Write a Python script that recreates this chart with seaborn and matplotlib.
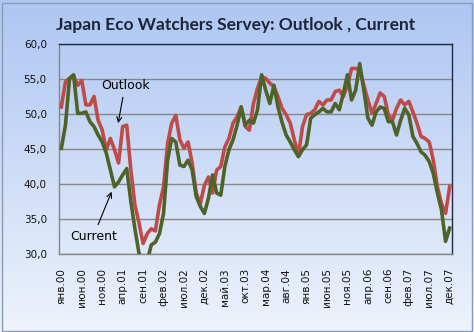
import numpy as np
import pandas as pd
import matplotlib
matplotlib.use("Agg")
import matplotlib.pyplot as plt
from matplotlib.colors import LinearSegmentedColormap
from matplotlib.patches import Rectangle
import seaborn as sns

# ---- data ----
months_ru = ["янв", "фев", "мар", "апр", "май", "июн",
             "июл", "авг", "сен", "окт", "ноя", "дек"]
years = ["00", "01", "02", "03", "04", "05", "06", "07"]

outlook = [51.0, 54.6, 55.1, 55.4, 54.1, 54.8, 51.3, 51.3, 52.5, 49.1, 47.7, 44.9,
           46.5, 44.9, 43.0, 48.2, 48.4, 42.0, 37.0, 34.4, 31.5, 32.9, 33.6, 33.3,
           37.0, 39.6, 45.8, 48.7, 49.8, 46.3, 45.1, 46.0, 43.0, 38.7, 37.2, 39.8,
           41.0, 38.7, 42.0, 42.5, 45.3, 46.5, 48.7, 49.6, 51.0, 48.2, 47.7, 51.5,
           53.7, 55.3, 55.1, 54.4, 53.9, 52.5, 50.8, 49.9, 48.7, 46.3, 44.1, 48.2,
           49.9, 50.1, 50.6, 51.8, 51.3, 52.0, 52.0, 53.2, 53.4, 52.5, 54.1, 56.5,
           56.5, 56.3, 54.1, 52.0, 50.1, 51.5, 53.0, 52.5, 49.9, 49.1, 50.8, 52.0,
           51.3, 51.8, 50.3, 48.7, 46.8, 46.5, 46.0, 43.4, 39.6, 37.2, 35.8, 39.6]

current = [45.1, 48.4, 55.1, 55.6, 50.1, 50.1, 50.3, 48.9, 48.2, 47.0, 46.0, 44.4,
           42.0, 39.6, 40.3, 41.3, 42.2, 37.5, 33.6, 30.1, 28.8, 29.0, 31.3, 31.7,
           32.9, 35.8, 43.4, 46.5, 46.0, 42.7, 42.5, 43.4, 42.0, 38.2, 36.8, 35.8,
           38.0, 41.3, 38.7, 38.4, 42.5, 44.9, 46.3, 48.4, 51.0, 48.4, 49.1, 48.7,
           50.6, 55.6, 53.4, 51.5, 54.1, 51.0, 48.8, 47.0, 46.0, 44.9, 43.9, 44.9,
           45.6, 49.4, 49.9, 50.3, 50.8, 50.3, 50.3, 51.5, 50.6, 53.0, 55.6, 52.0,
           53.4, 57.2, 53.4, 49.4, 48.4, 50.3, 51.0, 50.8, 48.9, 48.9, 47.0, 49.1,
           50.8, 49.9, 46.8, 45.8, 44.6, 44.1, 43.2, 41.5, 38.7, 36.3, 31.8, 33.7]

month_labels = [f"{m}.{y}" for y in years for m in months_ru]
idx = np.arange(len(month_labels))

df = pd.DataFrame({"idx": idx, "Outlook": outlook, "Current": current})

# ---- figure ----
W, H = 474, 332
fig = plt.figure(figsize=(W / 100, H / 100), dpi=100)

# gradient background
bg = fig.add_axes([0, 0, 1, 1], zorder=-10)
cmap = LinearSegmentedColormap.from_list("bg", ["#adc6f2", "#eef3fc"])
grad = np.linspace(0, 1, 256).reshape(-1, 1)
bg.imshow(grad, aspect="auto", cmap=cmap, extent=[0, 1, 0, 1], origin="upper")
bg.set_axis_off()
bg.add_patch(Rectangle((1.5 / W, 1.5 / H), (W - 4) / W, (H - 4.5) / H,
                       transform=fig.transFigure, fill=False,
                       edgecolor="#8a9bb5", linewidth=1.0))

left, right, top, bottom = 59.3, 451.7, 44.0, 254.0
ax = fig.add_axes([left / W, 1 - bottom / H, (right - left) / W, (bottom - top) / H])
ax.set_facecolor("none")

sns.lineplot(data=df, x="idx", y="Outlook", ax=ax, color="#be4b48",
             linewidth=2.6, zorder=3)
sns.lineplot(data=df, x="idx", y="Current", ax=ax, color="#4f6228",
             linewidth=2.6, zorder=4)

ax.set_xlim(-0.5, len(idx) - 0.5)
ax.set_ylim(30, 60)
ax.set_yticks(np.arange(30, 61, 5))
ax.set_yticklabels([f"{v:.1f}".replace(".", ",") for v in np.arange(30, 61, 5)],
                   fontsize=7.5, color="#111111", family="DejaVu Sans")
ax.yaxis.grid(True, color="#868686", linewidth=1.0, zorder=1)
ax.set_axisbelow(True)
ax.set_xticks(idx[::5])
ax.set_xticklabels(month_labels[::5], rotation=90, fontsize=7.5,
                   color="#111111", family="DejaVu Sans")
ax.tick_params(axis="both", length=0)
ax.tick_params(axis="y", pad=9)
ax.tick_params(axis="x", pad=10)
ax.set_xlabel("")
ax.set_ylabel("")

for s in ["left", "bottom"]:
    ax.spines[s].set_color("#868686")
    ax.spines[s].set_linewidth(1.0)
for s in ["top", "right"]:
    ax.spines[s].set_color("#1f2a44")
    ax.spines[s].set_linewidth(1.0)

fig.text(236 / W, 1 - 25 / H, "Japan Eco Watchers Servey: Outlook , Current",
         ha="center", va="center", fontsize=12.5, fontweight="bold",
         family="Lato", color="#1c2438")

ax.annotate("Outlook", xy=(13.9, 48.7), xytext=(15.6, 54.1),
            ha="center", va="center", fontsize=9, family="DejaVu Sans",
            arrowprops=dict(arrowstyle="->", color="black", lw=0.8,
                            shrinkA=2, shrinkB=0))
ax.annotate("Current", xy=(12.3, 38.9), xytext=(7.8, 32.5),
            ha="center", va="center", fontsize=9, family="DejaVu Sans",
            arrowprops=dict(arrowstyle="->", color="black", lw=0.8,
                            shrinkA=2, shrinkB=0))

fig.savefig("out.png", dpi=100)
